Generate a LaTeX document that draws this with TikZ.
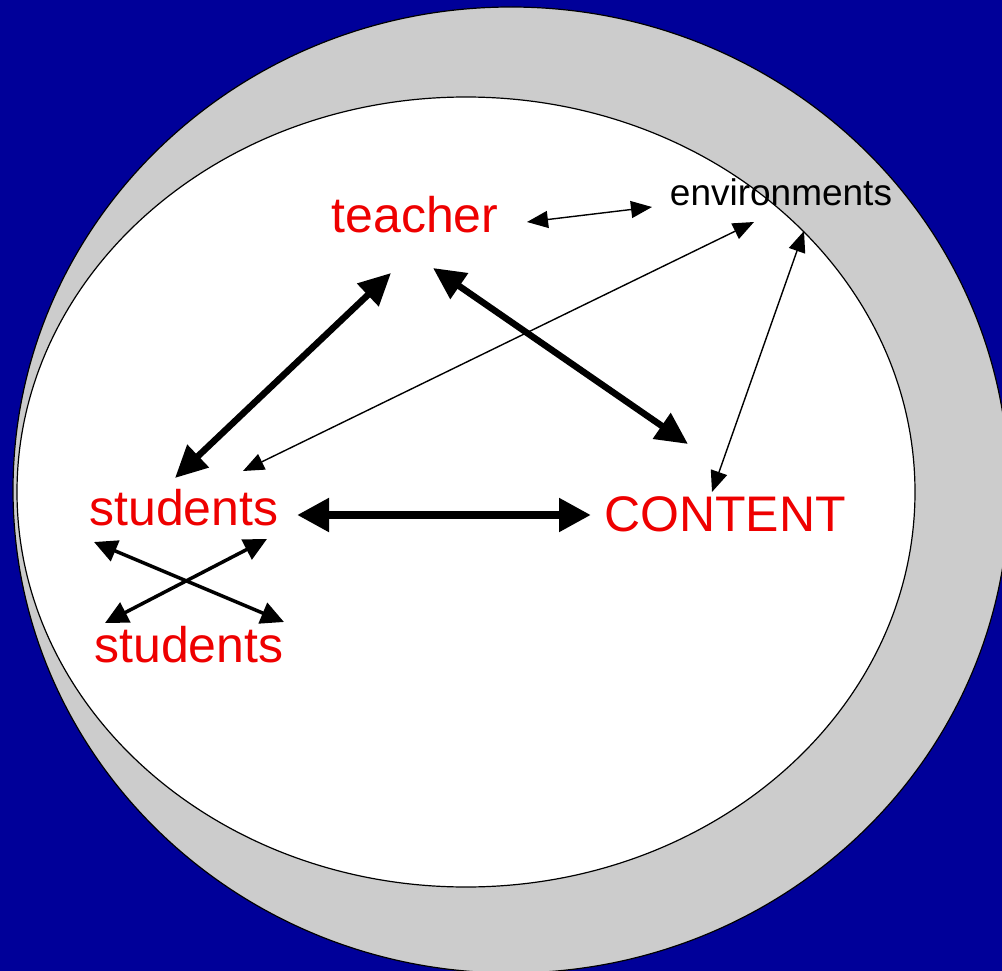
\documentclass[tikz,border=0pt]{standalone}
\usepackage{fontspec}
\setmainfont{Liberation Sans}
\usetikzlibrary{arrows.meta}
\definecolor{slideblue}{RGB}{0,0,153}
\definecolor{ringgrey}{RGB}{204,204,204}
\definecolor{labelred}{RGB}{238,0,0}
\tikzset{
  bigred/.style={text=labelred, inner sep=0pt, anchor=base, font=\fontsize{50}{60}\selectfont},
  envlabel/.style={text=black, inner sep=0pt, anchor=base, font=\fontsize{37}{44}\selectfont},
  thinlink/.style={line width=1.4pt, {Triangle[length=21pt,width=17pt]}-{Triangle[length=21pt,width=17pt]}},
  thicklink/.style={line width=6.5pt, {Triangle[length=32pt,width=30pt]}-{Triangle[length=32pt,width=30pt]}},
  widelink/.style={line width=8pt, {Triangle[length=32pt,width=32pt]}-{Triangle[length=32pt,width=32pt]}},
  crosslink/.style={line width=3.5pt, {Triangle[length=23pt,width=22pt]}-{Triangle[length=23pt,width=22pt]}},
}
\begin{document}
\begin{tikzpicture}[x=1pt,y=-1pt]
  % page background
  \fill[slideblue] (0,0) rectangle (1002,971);
  \useasboundingbox (0,0) rectangle (1002,971);
  \clip (0,0) rectangle (1002,971);

  % outer grey ring and inner white field
  \draw[fill=ringgrey, line width=1.2pt] (511,490) ellipse [x radius=498, y radius=483];
  \draw[fill=white, line width=1.2pt] (466,492) ellipse [x radius=449, y radius=395];

  % labels
  \node[bigred] (teacher) at (415,233) {teacher};
  \node[envlabel] (env) at (781,206) {environments};
  \node[bigred] (studA) at (184,525) {students};
  \node[bigred] (studB) at (189,662) {students};
  \node[bigred] (content) at (725,531) {CONTENT};

  % thin links to the environments
  \draw[thinlink] ([shift={(112,-11)}]teacher.base) -- ([shift={(-129,1)}]env.base);
  \draw[thinlink] ([shift={(59,-54)}]studA.base) -- ([shift={(-27,16)}]env.base);
  \draw[thinlink] ([shift={(-13,-39)}]content.base) -- ([shift={(23,25)}]env.base);

  % heavy links of the triangle
  \draw[thicklink] ([shift={(-9,-47)}]studA.base) -- ([shift={(-24,40)}]teacher.base);
  \draw[thicklink] ([shift={(18,35)}]teacher.base) -- ([shift={(-37,-87)}]content.base);
  \draw[widelink] ([shift={(113,-10)}]studA.base) -- ([shift={(-134,-16)}]content.base);

  % students to students
  \draw[crosslink] ([shift={(-90,17)}]studA.base) -- ([shift={(95,-40)}]studB.base);
  \draw[crosslink] ([shift={(83,14)}]studA.base) -- ([shift={(-84,-39)}]studB.base);
\end{tikzpicture}
\end{document}
